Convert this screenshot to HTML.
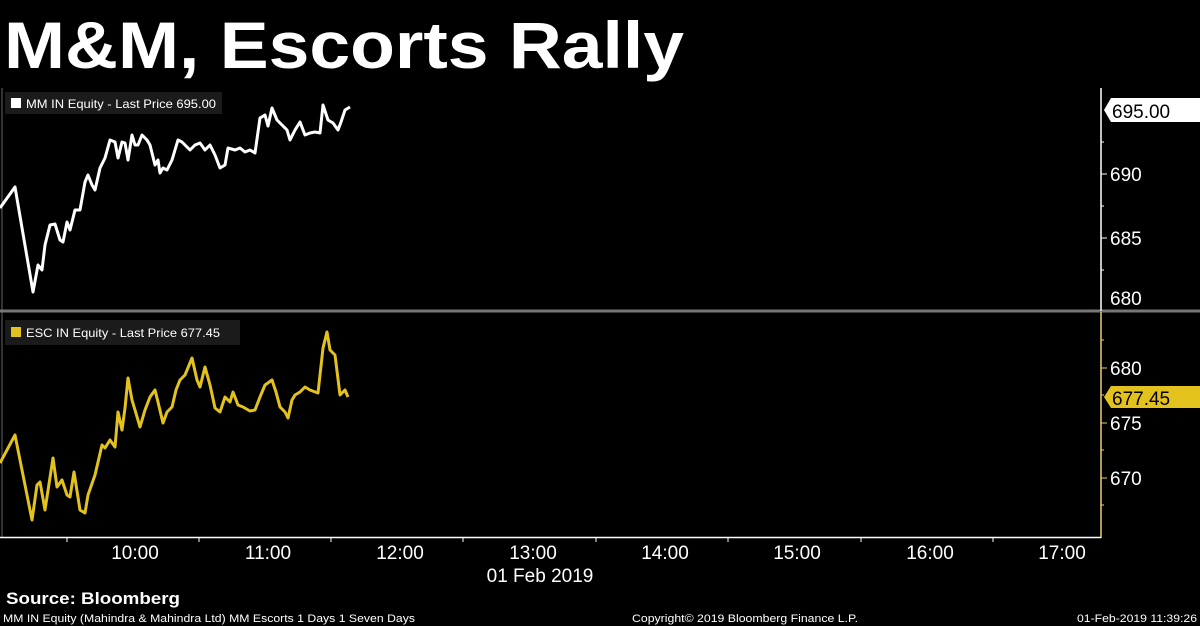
<!DOCTYPE html>
<html><head><meta charset="utf-8"><style>
html,body{margin:0;padding:0;background:#000;}
svg{display:block;}
text{font-family:"Liberation Sans",sans-serif;}
</style></head><body>
<svg width="1200" height="626" viewBox="0 0 1200 626" xmlns="http://www.w3.org/2000/svg">
<rect width="1200" height="626" fill="#000"/>
<text x="4" y="68" font-size="66" font-weight="bold" fill="#fff" textLength="680" lengthAdjust="spacingAndGlyphs">M&amp;M, Escorts Rally</text>
<line x1="2" y1="88" x2="2" y2="538" stroke="#666" stroke-width="1"/>
<line x1="0" y1="311" x2="1200" y2="311" stroke="#777" stroke-width="3"/>
<line x1="1101" y1="88" x2="1101" y2="311" stroke="#fff" stroke-width="1.5"/>
<line x1="1101" y1="312" x2="1101" y2="538" stroke="#e8d070" stroke-width="1.5"/>
<line x1="0" y1="537.5" x2="1101" y2="537.5" stroke="#fff" stroke-width="1.5"/>
<g stroke="#fff" stroke-width="1">
<line x1="67" y1="538" x2="67" y2="542"/><line x1="199" y1="538" x2="199" y2="542"/><line x1="331" y1="538" x2="331" y2="542"/><line x1="463" y1="538" x2="463" y2="542"/><line x1="596" y1="538" x2="596" y2="542"/><line x1="728" y1="538" x2="728" y2="542"/><line x1="861" y1="538" x2="861" y2="542"/><line x1="993" y1="538" x2="993" y2="542"/>
</g>
<g font-size="19" fill="#fff" text-anchor="middle">
<text x="135" y="559">10:00</text><text x="268" y="559">11:00</text><text x="400" y="559">12:00</text><text x="533" y="559">13:00</text><text x="665" y="559">14:00</text><text x="797" y="559">15:00</text><text x="930" y="559">16:00</text><text x="1062" y="559">17:00</text>
<text x="540" y="582">01 Feb 2019</text>
</g>
<g font-size="19" fill="#fff">
<text x="1110" y="181">690</text><text x="1110" y="245">685</text><text x="1110" y="305">680</text>
<text x="1110" y="375">680</text><text x="1110" y="430">675</text><text x="1110" y="485">670</text>
</g>
<g stroke="#fff"><line x1="1101" y1="174" x2="1107" y2="174"/><line x1="1101" y1="238" x2="1107" y2="238"/><line x1="1101" y1="142" x2="1104" y2="142"/><line x1="1101" y1="206" x2="1104" y2="206"/><line x1="1101" y1="270" x2="1104" y2="270"/></g>
<g stroke="#e8d070"><line x1="1101" y1="368" x2="1107" y2="368"/><line x1="1101" y1="423" x2="1107" y2="423"/><line x1="1101" y1="478" x2="1107" y2="478"/><line x1="1101" y1="340" x2="1104" y2="340"/><line x1="1101" y1="395" x2="1104" y2="395"/><line x1="1101" y1="450" x2="1104" y2="450"/><line x1="1101" y1="505" x2="1104" y2="505"/></g>
<polygon points="1104,110 1111,98 1200,98 1200,122 1111,122" fill="#fff"/>
<text x="1112" y="118" font-size="19" fill="#000">695.00</text>
<polygon points="1104,397 1111,386 1200,386 1200,408 1111,408" fill="#e3c21e"/>
<text x="1112" y="405" font-size="19" fill="#000">677.45</text>
<rect x="5" y="92" width="217" height="22" fill="#1b1b1b"/>
<rect x="11" y="98" width="10" height="10" fill="#fff"/>
<text x="26" y="108" font-size="12" fill="#fff" textLength="190" lengthAdjust="spacingAndGlyphs">MM IN Equity - Last Price 695.00</text>
<rect x="5" y="320" width="235" height="25" fill="#1b1b1b"/>
<rect x="11" y="327" width="10" height="10" fill="#e3c21e"/>
<text x="26" y="337" font-size="12" fill="#fff" textLength="194" lengthAdjust="spacingAndGlyphs">ESC IN Equity - Last Price 677.45</text>
<polyline fill="none" stroke="#fff" stroke-width="3" stroke-linejoin="round" points="0,208 15,187 33,292 38,265 42,270 45,245 50,225 55,224 60,240 63,242 67,222 70,230 75,210 80,210 85,182 88,175 92,185 95,190 100,168 105,158 110,140 115,142 118,158 122,142 125,143 128,160 132,135 135,145 138,145 142,135 147,140 150,145 155,165 158,160 160,173 163,168 167,170 172,160 175,150 178,140 182,142 190,150 195,145 200,143 205,150 210,145 215,155 220,168 225,165 228,148 235,150 240,148 245,152 250,150 255,153 260,118 265,115 268,126 272,108 277,120 282,125 287,130 290,140 295,130 300,122 305,135 310,133 315,132 320,133 323,105 328,120 333,123 338,130 341,122 345,110 350,107"/>
<polyline fill="none" stroke="#e3c21e" stroke-width="3" stroke-linejoin="round" points="0,463 15,435 32,520 37,485 40,482 45,510 53,458 57,487 62,480 67,495 70,497 74,472 80,510 85,513 88,495 95,475 102,445 105,448 110,440 115,447 118,412 122,430 125,408 128,378 132,400 135,410 140,427 145,410 150,397 155,390 158,402 163,423 167,412 172,407 176,390 180,380 185,375 192,358 197,380 200,387 205,367 210,385 215,408 220,412 225,397 230,402 233,392 238,405 243,407 250,411 255,410 260,397 265,385 272,380 276,392 280,407 285,412 288,418 292,400 295,395 300,392 305,387 310,390 318,393 323,348 327,332 330,350 335,355 340,395 345,390 348,397"/>
<text x="6" y="604" font-size="17" font-weight="bold" fill="#fff" textLength="174" lengthAdjust="spacingAndGlyphs">Source: Bloomberg</text>
<text x="3" y="622" font-size="11" fill="#fff" textLength="412" lengthAdjust="spacingAndGlyphs">MM IN Equity (Mahindra &amp; Mahindra Ltd) MM Escorts 1 Days 1 Seven Days</text>
<text x="632" y="622" font-size="11" fill="#fff" textLength="226" lengthAdjust="spacingAndGlyphs">Copyright© 2019 Bloomberg Finance L.P.</text>
<text x="1077" y="622" font-size="11" fill="#fff" textLength="120" lengthAdjust="spacingAndGlyphs">01-Feb-2019 11:39:26</text>
</svg>
</body></html>
